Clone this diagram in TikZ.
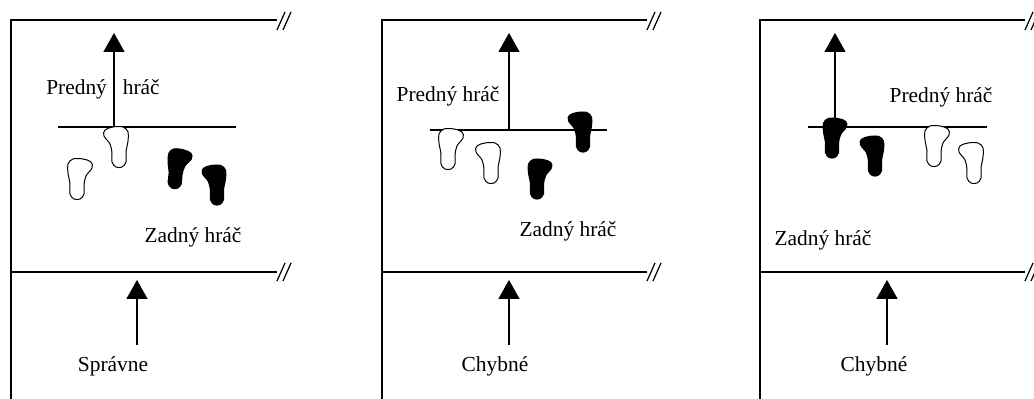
\documentclass[tikz,border=0pt]{standalone}
\usepackage{fontspec}
\setmainfont{Liberation Serif}
\usetikzlibrary{arrows.meta, positioning}

\begin{document}
\begin{tikzpicture}[x = 0.5pt, y = -0.5pt, line width = 0.75pt,
		every node/.append style = {font=\fontsize{10.7}{12}\selectfont, inner sep=0pt, anchor=base},
		up/.style = {-{Triangle[width=10.5pt, length=9.5pt]}},
		cut/.pic = {\draw[line width=0.6pt] (-7,9) -- (1,-9) (-1,9) -- (7,-9);},
		foot/.pic = {\path[pic actions] plot[smooth cycle, tension=0.6] coordinates
			{(-7,-20) (3,-20) (11,-17) (12,-11) (6,-3) (4,6) (4,15) (0,20) (-6,20) (-10,15) (-10,5) (-12,-6) (-12,-15)};},
		wfoot/.style = {draw, fill=white, line width=0.5pt},
		bfoot/.style = {fill=black}]
	\useasboundingbox (0,0) rectangle (1034,399);

	% frames of the three courts
	\foreach \x/\r in {11/277, 382/647, 760/1025} {
		\draw (\x,399) -- (\x,20) -- (\r,20);
		\draw (\x,272) -- (\r,272);
		\pic at (\r+7,21) {cut};
		\pic at (\r+7,272) {cut};
	}
	\draw (58,127) -- (236,127);
	\draw (430,130) -- (607,130);
	\draw (808,127) -- (987,127);

	% arrows
	\coordinate (cross1) at (114,127);
	\coordinate (aim1) at (114,33);
	\coordinate (cross2) at (509,130);
	\coordinate (aim2) at (509,33);
	\coordinate (cross3) at (835,127);
	\coordinate (aim3) at (835,33);
	\coordinate (base1) at (137,345);
	\coordinate (net1) at (137,280);
	\coordinate (base2) at (509,345);
	\coordinate (net2) at (509,280);
	\coordinate (base3) at (887,345);
	\coordinate (net3) at (887,280);
	\foreach \i in {1,2,3} {
		\draw[up] (cross\i) -- (aim\i);
		\draw[up] (base\i) -- (net\i);
	}

	% feet
	\pic[wfoot] at (80,179) {foot};
	\pic[wfoot, xscale=-1] at (116,147) {foot};
	\pic[bfoot, rotate=-5] at (179,169) {foot};
	\pic[bfoot, xscale=-1] at (214,185) {foot};

	\pic[wfoot] at (451,149) {foot};
	\pic[wfoot, xscale=-1] at (488,163) {foot};
	\pic[bfoot, xscale=-1] at (580,132) {foot};
	\pic[bfoot] at (540,179) {foot};

	\pic[bfoot] at (835,138) {foot};
	\pic[bfoot, xscale=-1] at (872,156) {foot};
	\pic[wfoot] at (937,146) {foot};
	\pic[wfoot, xscale=-1] at (971,163) {foot};

	% texts
	\node (front1) at (103,95) {Predný\hspace{8pt}hráč};
	\node (rear1) at (193,243) {Zadný hráč};
	\node (verdict1) at (113,372) {Správne};
	\node (front2) at (448,102) {Predný hráč};
	\node (rear2) at (568,237) {Zadný hráč};
	\node (verdict2) at (495,372) {Chybné};
	\node (front3) at (941,103) {Predný hráč};
	\node (rear3) at (823,246) {Zadný hráč};
	\node (verdict3) at (874,372) {Chybné};
\end{tikzpicture}
\end{document}
